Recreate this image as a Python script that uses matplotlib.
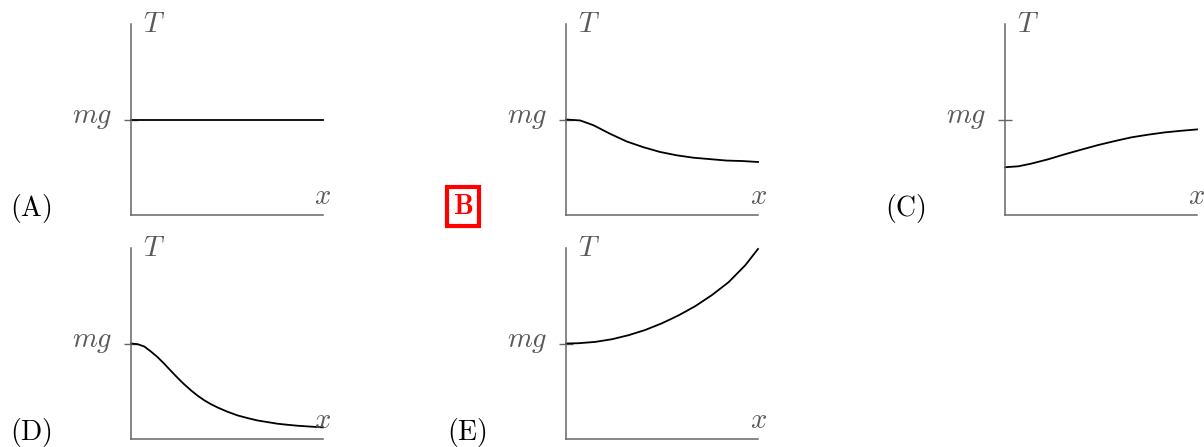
# Five small sketch graphs of tension T versus position x, answer B boxed in red.

import matplotlib.pyplot as plt

plt.rcParams["mathtext.fontset"] = "cm"
plt.rcParams["font.family"] = "serif"

# Data (x runs 0..1 along the axis, T in units of mg)
x_a = [0.0, 1.0]
t_a = [1.0, 1.0]

x_b = [0.0, 0.074, 0.143, 0.23, 0.316, 0.403, 0.49, 0.577, 0.663, 0.75, 0.837, 0.92, 1.0]
t_b = [1.0, 0.99, 0.94, 0.85, 0.77, 0.71, 0.66, 0.625, 0.60, 0.585, 0.57, 0.565, 0.555]

x_c = [0.0, 0.07, 0.137, 0.224, 0.31, 0.397, 0.484, 0.571, 0.658, 0.745, 0.832, 0.918, 1.0]
t_c = [0.50, 0.51, 0.538, 0.583, 0.635, 0.684, 0.732, 0.774, 0.813, 0.841, 0.865, 0.882, 0.896]

x_d = [0.0, 0.034, 0.069, 0.103, 0.138, 0.173, 0.207, 0.242, 0.277, 0.312, 0.346, 0.381,
       0.416, 0.451, 0.503, 0.555, 0.607, 0.659, 0.711, 0.763, 0.815, 0.867, 0.919, 0.971, 1.0]
t_d = [1.0, 0.993, 0.969, 0.917, 0.858, 0.788, 0.715, 0.642, 0.573, 0.51, 0.455, 0.406,
       0.365, 0.33, 0.285, 0.247, 0.219, 0.194, 0.177, 0.16, 0.149, 0.139, 0.132, 0.125, 0.122]

x_e = [0.0, 0.066, 0.153, 0.24, 0.326, 0.413, 0.5, 0.587, 0.674, 0.76, 0.847, 0.934, 1.0]
t_e = [1.0, 1.003, 1.017, 1.045, 1.087, 1.142, 1.212, 1.295, 1.392, 1.507, 1.642, 1.82, 1.99]

labels = ["(A)", "B", "(C)", "(D)", "(E)"]
curves = [(x_a, t_a), (x_b, t_b), (x_c, t_c), (x_d, t_d), (x_e, t_e)]

W, H = 1204, 447
# pixel boxes: axis left x, axis bottom y (from top), label left x, label baseline y
boxes = [
    (131, 215, 10, 216),
    (566, 215, 453, 214),
    (1005, 215, 885, 216),
    (131, 439, 10, 440),
    (566, 439, 447, 440),
]
AX_W, AX_H = 192, 191
GRAY = "#666666"
TXT = "#5a5a5a"

fig = plt.figure(figsize=(W / 100, H / 100), dpi=100)

for (xs, ts), lab, (x0, yb, lx, ly) in zip(curves, labels, boxes):
    ax = fig.add_axes([x0 / W, (H - yb) / H, AX_W / W, AX_H / H])
    ax.set_xlim(0, 1)
    ax.set_ylim(0, 2)
    for s in ["top", "right"]:
        ax.spines[s].set_visible(False)
    for s in ["left", "bottom"]:
        ax.spines[s].set_color(GRAY)
        ax.spines[s].set_linewidth(1.1)
    ax.set_xticks([])
    ax.set_yticks([1])
    ax.set_yticklabels([])
    ax.tick_params(axis="y", direction="inout", length=10, width=1.0, color=GRAY)
    ax.patch.set_visible(False)

    ax.plot(xs, ts, color="black", lw=1.3, clip_on=False, solid_joinstyle="round")

    ax.text(12 / AX_W, 1.0, "$T$", transform=ax.transAxes, fontsize=20.5,
            color=TXT, ha="left", va="center")
    ax.text(-18 / AX_W, 0.96, "$mg$", transform=ax.get_yaxis_transform(),
            fontsize=20.5, color=TXT, ha="right", va="baseline")
    ax.text(1.0, 11 / AX_H, "$x$", transform=ax.transAxes, fontsize=20.5,
            color=TXT, ha="center", va="baseline")

    if lab == "B":
        fig.text(lx / W, (H - ly) / H, "$\\mathbf{B}$", fontsize=20, color="red",
                 ha="left", va="baseline",
                 bbox=dict(facecolor="white", edgecolor="red", lw=3.0,
                           boxstyle="square,pad=0.2"))
    else:
        fig.text(lx / W, (H - ly) / H, "$\\mathrm{" + lab + "}$", fontsize=20,
                 color="black", ha="left", va="baseline")

fig.savefig("out.png", dpi=100)
